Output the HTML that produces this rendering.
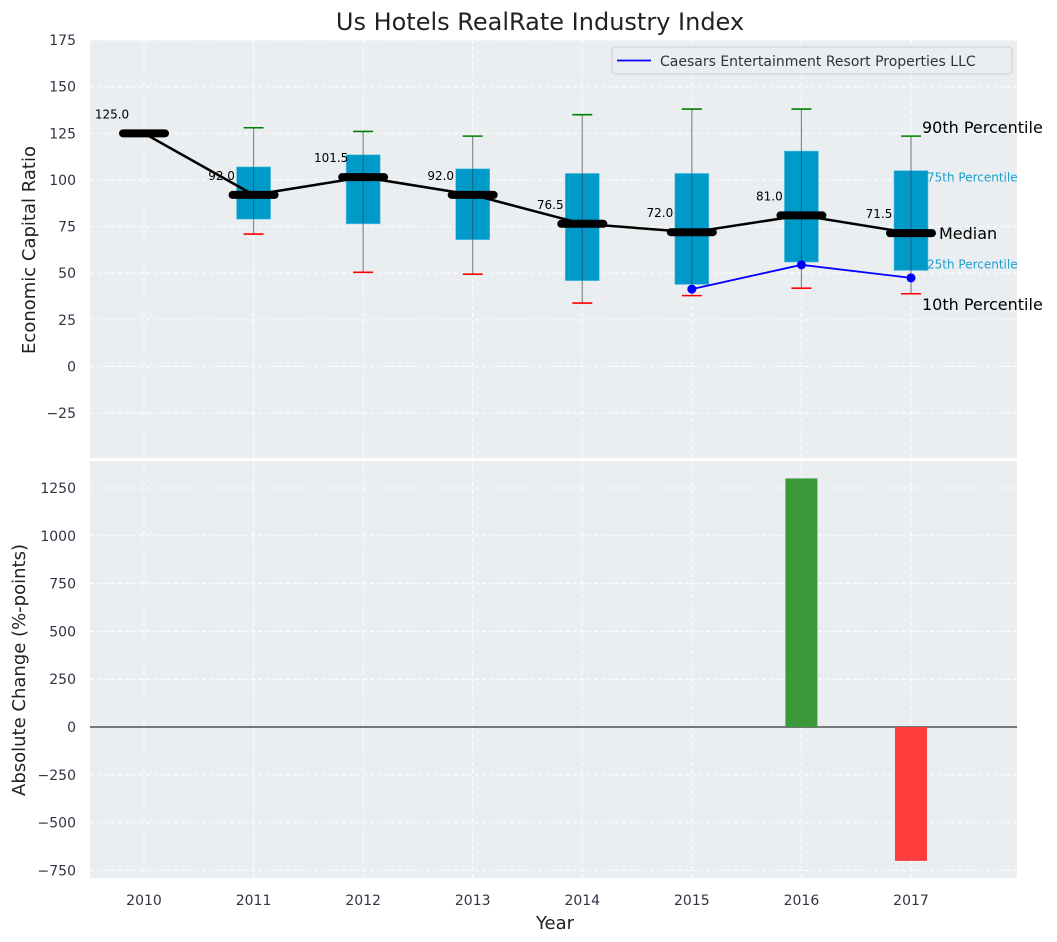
<!DOCTYPE html>
<html><head><meta charset="utf-8"><style>
html,body{margin:0;padding:0;background:#fff;}
svg{display:block;font-family:"DejaVu Sans","Liberation Sans",sans-serif;}
</style></head><body>
<svg id="chart" width="1057" height="942" xmlns="http://www.w3.org/2000/svg"></svg>
<script>
const years=[2010,2011,2012,2013,2014,2015,2016,2017];
const p10=[125,71,50.5,49.5,34,38,42,39];
const p25=[125,79,76.5,68,46,44,56,51.5];
const medians=[125,92,101.5,92,76.5,72,81,71.5];
const p75=[125,107,113.5,106,103.5,103.5,115.5,105];
const p90=[125,128,126,123.5,135,138,138,123.5];
const companyYears=[2015,2016,2017];
const companyVals=[41.5,54.5,47.5];
const changeYears=[2016,2017];
const changeVals=[1300,-700];
const topTicks=[-25,0,25,50,75,100,125,150,175];
const botTicks=[-750,-500,-250,0,250,500,750,1000,1250];

const NS="http://www.w3.org/2000/svg";
const svg=document.getElementById('chart');
function el(t,a,p){const e=document.createElementNS(NS,t);for(const k in a)e.setAttribute(k,a[k]);(p||svg).appendChild(e);return e;}
const fmt=v=>String(v).replace('-','\u2212');
const L=90,R=1017;
const x=v=>144+(v-2010)*109.57;
const yT=v=>366.5-v*1.8653;
const yB=v=>727-v*0.1912;

let t=el('text',{x:540,y:30,'text-anchor':'middle','font-size':24,fill:'#222'});t.textContent='Us Hotels RealRate Industry Index';


function panel(y0,y1,ticks,yf,name){
  const g=el('g',{});
  
  el('rect',{x:L,y:y0,width:R-L,height:y1-y0,fill:'#eaeef0'},g);
  ticks.forEach(v=>{const yy=yf(v);
    el('line',{x1:L,x2:R,y1:yy,y2:yy,stroke:'#fff','stroke-dasharray':'4,3','stroke-width':1},g);
    const tx=el('text',{x:L-14,y:yy+5,'text-anchor':'end','font-size':14,fill:'#334'},g);tx.textContent=fmt(v);
    
  });
  years.forEach(yr=>el('line',{x1:x(yr),x2:x(yr),y1:y0,y2:y1,stroke:'#fff','stroke-dasharray':'4,3'},g));
  return g;
}
const gt=panel(40,458,topTicks,yT,'top-panel');
const gb=panel(461,878,botTicks,yB,'bottom-panel');

years.forEach((yr,i)=>{
  const cx=x(yr);
  if(p90[i]!==p10[i]){
    const w=el('line',{x1:cx,x2:cx,y1:yT(p90[i]),y2:yT(p10[i]),stroke:'#888','stroke-width':1.2},gt);
    
    const b=el('rect',{x:cx-17,y:yT(p75[i]),width:34,height:yT(p25[i])-yT(p75[i]),fill:'#009ac9',stroke:'#5ec3e4','stroke-width':0.6},gt);
    
    el('line',{x1:cx,x2:cx,y1:yT(p75[i]),y2:yT(p25[i]),stroke:'#335','stroke-width':1,opacity:0.6},gt);
    const c1=el('line',{x1:cx-10,x2:cx+10,y1:yT(p90[i]),y2:yT(p90[i]),stroke:'green','stroke-width':1.6},gt);
    
    const c2=el('line',{x1:cx-10,x2:cx+10,y1:yT(p10[i]),y2:yT(p10[i]),stroke:'red','stroke-width':1.6},gt);
    
  }
});
const ml=el('polyline',{points:years.map((yr,i)=>x(yr)+','+yT(medians[i])).join(' '),fill:'none',stroke:'#000','stroke-width':2.5},gt);

years.forEach((yr,i)=>{
  const cx=x(yr),yy=yT(medians[i]);
  const m=el('line',{x1:cx-21,x2:cx+21,y1:yy,y2:yy,stroke:'#000','stroke-width':8,'stroke-linecap':'round'},gt);
  
  const lb=el('text',{x:cx-32,y:yy-15,'text-anchor':'middle','font-size':12,fill:'#000'},gt);lb.textContent=medians[i].toFixed(1);
  
});
const cl=el('polyline',{points:companyYears.map((yr,i)=>x(yr)+','+yT(companyVals[i])).join(' '),fill:'none',stroke:'#0000ff','stroke-width':1.8},gt);

companyYears.forEach((yr,i)=>{const c=el('circle',{cx:x(yr),cy:yT(companyVals[i]),r:4.5,fill:'#0000ff'},gt);
  });
const lx=x(2017);
[['90th Percentile',lx+11,yT(p90[7])-3,16,'#000'],['75th Percentile',lx+16,yT(p75[7])+11,12,'#1a9fcf'],['Median',lx+28,yT(medians[7])+6,16,'#000'],['25th Percentile',lx+16,yT(p25[7])-2,12,'#1a9fcf'],['10th Percentile',lx+11,yT(p10[7])+16,16,'#000']].forEach(a=>{
  const tt=el('text',{x:a[1],y:a[2],'font-size':a[3],fill:a[4]},gt);tt.textContent=a[0];
  
});
const lg=el('g',{});
el('rect',{x:612,y:47,width:400,height:27,rx:3,fill:'#eaeef0',stroke:'#ccc'},lg);
el('line',{x1:617,x2:651,y1:60.5,y2:60.5,stroke:'#0000ff','stroke-width':1.8},lg);
const lt=el('text',{x:660,y:66,'font-size':14,fill:'#333'},lg);lt.textContent='Caesars Entertainment Resort Properties LLC';

el('line',{x1:L,x2:R,y1:yB(0),y2:yB(0),stroke:'#000','stroke-width':1},gb);
changeYears.forEach((yr,i)=>{const v=changeVals[i];
  const b=el('rect',{x:x(yr)-16,y:Math.min(yB(v),yB(0)),width:32,height:Math.abs(yB(v)-yB(0)),fill:v>=0?'#3a9a3a':'#ff3b3b'},gb);
  });
years.forEach(yr=>{const tx=el('text',{x:x(yr),y:905,'text-anchor':'middle','font-size':14,fill:'#334'});tx.textContent=yr;
  });
let xa=el('text',{x:555,y:929,'text-anchor':'middle','font-size':18,fill:'#222'});xa.textContent='Year';

let ya=el('text',{x:0,y:0,transform:'translate(35,250) rotate(-90)','text-anchor':'middle','font-size':18,fill:'#222'});ya.textContent='Economic Capital Ratio';

let yb=el('text',{x:0,y:0,transform:'translate(25,670) rotate(-90)','text-anchor':'middle','font-size':18,fill:'#222'});yb.textContent='Absolute Change (%-points)';

</script>
</body></html>
